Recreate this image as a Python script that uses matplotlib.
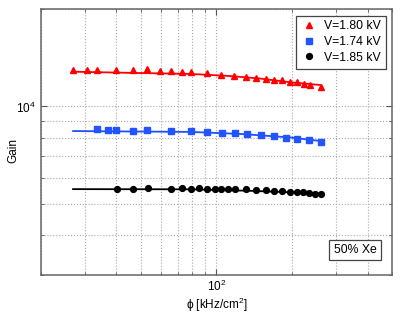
import numpy as np
import matplotlib
matplotlib.use("Agg")
import matplotlib.pyplot as plt
from matplotlib.ticker import LogLocator, NullFormatter

plt.rcParams['font.family'] = ['Liberation Sans', 'DejaVu Sans']
plt.rcParams['mathtext.fontset'] = 'custom'
plt.rcParams['mathtext.rm'] = 'Liberation Sans'
plt.rcParams['mathtext.it'] = 'Liberation Sans:italic'
plt.rcParams['font.size'] = 8.5

# data  (rate in kHz/cm2, gain)
phi_180 = [27.0, 30.5, 33.6, 40.0, 46.5, 53.1, 59.4, 65.9, 72.7, 79.1, 92.1, 104.7,
           117.5, 130.9, 143.9, 156.7, 169.0, 181.5, 195.9, 210.0, 222.7, 235.5, 260.4]
gain_180 = [12980, 12980, 12980, 13010, 13010, 13050, 12910, 12860, 12800, 12770, 12680, 12550,
            12430, 12370, 12280, 12170, 12110, 12060, 11940, 11890, 11770, 11680, 11490]

phi_174 = [33.6, 37.0, 40.0, 46.5, 53.1, 66.2, 79.1, 92.1, 105.3, 118.6, 131.7, 150.6,
           169.7, 188.8, 208.3, 233.9, 260.4]
gain_174 = [8494, 8451, 8432, 8413, 8451, 8391, 8372, 8354, 8293, 8253, 8212, 8152,
            8094, 8000, 7943, 7847, 7752]

phi_185 = [40.2, 46.7, 53.2, 65.9, 72.7, 79.0, 85.3, 91.8, 98.4, 104.7, 110.9, 118.3,
           130.8, 143.9, 156.7, 169.2, 182.5, 195.9, 208.3, 220.7, 233.9, 246.4, 260.4]
gain_185 = [5542, 5555, 5595, 5555, 5567, 5555, 5595, 5555, 5555, 5542, 5542, 5528,
            5528, 5516, 5488, 5476, 5476, 5448, 5436, 5425, 5397, 5370, 5346]

# fit curves
fit_phi_180 = [26.8, 46.4, 78.3, 113.0, 148.8, 195.9, 258.0]
fit_gain_180 = [12820, 12710, 12620, 12430, 12210, 11890, 11660]
fit_phi_174 = [26.9, 78.3, 123.8, 195.9, 258.0]
fit_gain_174 = [8390, 8340, 8221, 8017, 7818]
fit_phi_185 = [26.9, 78.3, 136.0, 258.0]
fit_gain_185 = [5542, 5535, 5476, 5376]

fig = plt.figure(figsize=(4.09, 3.14), dpi=100)
ax = fig.add_axes([0.0995, 0.124, 0.8595, 0.846])

ax.plot(fit_phi_180, fit_gain_180, '-', color='red', lw=1.3)
ax.plot(fit_phi_174, fit_gain_174, '-', color='#1f4fff', lw=1.3)
ax.plot(fit_phi_185, fit_gain_185, '-', color='black', lw=1.3)

ax.plot(phi_180, gain_180, '^', color='red', ms=4.8, ls='none', label='V=1.80 kV')
ax.plot(phi_174, gain_174, 's', color='#2255ff', ms=3.8, ls='none', label='V=1.74 kV')
ax.plot(phi_185, gain_185, 'o', color='black', ms=4.2, ls='none', label='V=1.85 kV')

ax.set_xscale('log')
ax.set_yscale('log')
ax.set_xlim(20, 500)
ax.set_ylim(3000, 20000)

ax.xaxis.set_major_locator(LogLocator(base=10, numticks=10))
ax.xaxis.set_minor_locator(LogLocator(base=10, subs=np.arange(2, 10), numticks=10))
ax.yaxis.set_major_locator(LogLocator(base=10, numticks=10))
ax.yaxis.set_minor_locator(LogLocator(base=10, subs=np.arange(2, 10), numticks=10))
ax.xaxis.set_minor_formatter(NullFormatter())
ax.yaxis.set_minor_formatter(NullFormatter())

ax.grid(True, which='both', ls=':', color='#aaaaaa', lw=0.8)
ax.tick_params(which='both', direction='in', top=True, right=True, color='#555555',
               labelsize=8.5, pad=4)
ax.tick_params(axis='x', pad=2.5)
ax.tick_params(which='major', length=4)
ax.tick_params(which='minor', length=2.5)
for s in ax.spines.values():
    s.set_color('#666666')
    s.set_linewidth(1.1)

ax.set_xlabel('ϕ [kHz/cm$^2$]', fontsize=8.5, va='center')
ax.xaxis.set_label_coords(0.5, -0.112)
ax.set_ylabel('Gain', fontsize=8.5, va='center')
ax.yaxis.set_label_coords(-0.079, 0.47)

leg = ax.legend(loc='upper right', fontsize=8.8, fancybox=False, edgecolor='#444444',
                handlelength=1.2, handletextpad=0.7, borderpad=0.4, labelspacing=0.3,
                borderaxespad=0.5, framealpha=1)
leg.get_frame().set_linewidth(0.9)

ax.text(0.894, 0.094, '50% Xe', transform=ax.transAxes, ha='center', va='center', fontsize=8.8,
        bbox=dict(boxstyle='square,pad=0.35', fc='white', ec='#444444', lw=0.9))

fig.savefig('out.png', dpi=100)
